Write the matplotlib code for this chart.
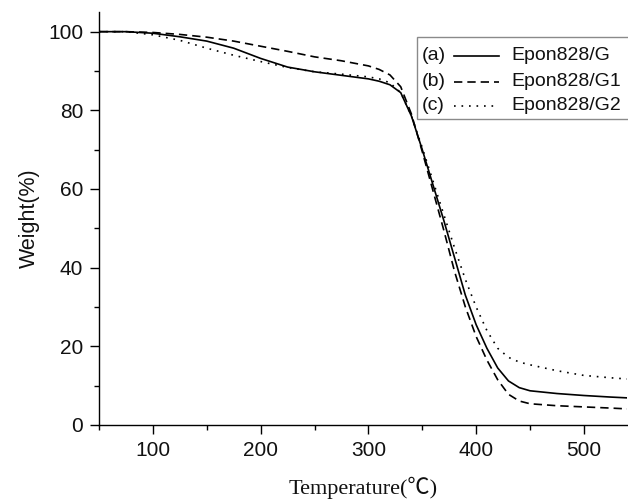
import matplotlib
matplotlib.use("Agg")
import matplotlib.pyplot as plt
from matplotlib.lines import Line2D
from matplotlib.patches import Rectangle
from matplotlib.ticker import MultipleLocator

temp = [50, 75, 100, 125, 150, 175, 200, 225, 250, 275, 300, 310, 320, 330, 340, 350,
        360, 370, 380, 390, 400, 410, 420, 430, 440, 450, 475, 500, 525, 540]

w_a = [100.0, 100.0, 99.6, 98.7, 97.6, 95.8, 93.2, 91.0, 89.8, 88.9, 88.0, 87.4, 86.5, 84.5,
       78.5, 70.0, 61.0, 52.0, 42.5, 33.0, 25.5, 19.5, 14.5, 11.2, 9.5, 8.7, 8.0, 7.5, 7.1, 6.9]
w_b = [100.0, 100.0, 99.8, 99.3, 98.6, 97.6, 96.3, 95.0, 93.6, 92.6, 91.3, 90.4, 89.0, 86.0,
       79.0, 69.5, 59.5, 49.5, 39.0, 30.0, 22.5, 16.5, 11.5, 7.8, 6.1, 5.4, 4.9, 4.6, 4.3, 4.1]
w_c = [100.0, 100.0, 99.2, 97.8, 95.8, 94.0, 92.4, 90.9, 89.8, 89.2, 88.5, 88.0, 87.0, 84.5,
       78.5, 70.5, 62.0, 53.5, 45.0, 37.0, 30.0, 24.0, 19.5, 17.2, 16.0, 15.3, 13.8, 12.6, 12.0, 11.7]

tags = ["(a)", "(b)", "(c)"]
names = ["Epon828/G", "Epon828/G1", "Epon828/G2"]
styles = ["-", (0, (5, 3)), (0, (1, 3.5))]

sans = ["Liberation Sans", "DejaVu Sans"]
serif = ["Liberation Serif", "Noto Sans CJK SC", "DejaVu Serif"]

fig = plt.figure(figsize=(6.28, 5.04), dpi=100)
ax = fig.add_axes([99 / 628, 79 / 504, 528 / 628, 413 / 504])

for ys, ls in zip([w_a, w_b, w_c], styles):
    ax.plot(temp, ys, color="black", linestyle=ls, linewidth=1.2)

ax.set_xlim(50, 540)
ax.set_ylim(0, 105)
ax.xaxis.set_major_locator(MultipleLocator(100))
ax.xaxis.set_minor_locator(MultipleLocator(50))
ax.yaxis.set_major_locator(MultipleLocator(20))
ax.yaxis.set_minor_locator(MultipleLocator(10))
for s in ["top", "right"]:
    ax.spines[s].set_visible(False)
for s in ["left", "bottom"]:
    ax.spines[s].set_linewidth(1.0)
ax.tick_params(which="major", direction="out", length=6.5, width=1.0, pad=5,
               labelsize=15)
ax.tick_params(which="minor", direction="out", length=3.5, width=1.0)
for lab in ax.get_xticklabels() + ax.get_yticklabels():
    lab.set_family(sans)
    lab.set_color("#111111")

ax.set_ylabel("Weight(%)", family=sans, fontsize=15.5, labelpad=6, color="#111111")
ax.set_xlabel("Temperature(℃)", family=serif, fontsize=16, labelpad=12, color="#111111")

def fx(px):
    return (px - 99) / 528
def fy(py):
    return (425 - py) / 413

ax.add_patch(Rectangle((fx(417), fy(119)), fx(640) - fx(417), fy(37) - fy(119),
                       transform=ax.transAxes, fill=True, facecolor="white",
                       edgecolor="#8a8a8a", linewidth=1.0, clip_on=False, zorder=5))
rows = [56, 82, 106]
for tag, name, ls, py in zip(tags, names, styles, rows):
    ax.text(fx(422), fy(py), tag, transform=ax.transAxes, family=sans, fontsize=14,
            va="center", ha="left", zorder=6, color="#111111")
    ax.add_line(Line2D([fx(454), fx(499)], [fy(py), fy(py)], transform=ax.transAxes,
                       color="black", linestyle=ls, linewidth=1.2, zorder=6, clip_on=False))
    ax.text(fx(511), fy(py), name, transform=ax.transAxes, family=sans, fontsize=14,
            va="center", ha="left", zorder=6, color="#111111")

fig.savefig("out.png", dpi=100)
